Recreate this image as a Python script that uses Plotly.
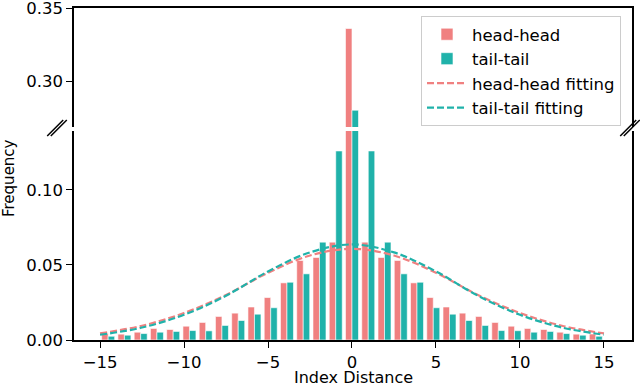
import numpy as np
import plotly.graph_objects as go

# histogram of index distances: 31 bins over [-15, 15]
bin_edges = np.linspace(-15, 15, 32)
bin_centers = (bin_edges[:-1] + bin_edges[1:]) / 2

head_head = [0.0042, 0.0039, 0.0052, 0.0077, 0.0070, 0.0092, 0.0117, 0.0157,
             0.0179, 0.0220, 0.0283, 0.0381, 0.0530, 0.0550, 0.0652,
             0.3360,
             0.0652, 0.0550, 0.0530, 0.0381, 0.0283, 0.0220, 0.0179, 0.0157,
             0.0117, 0.0092, 0.0077, 0.0070, 0.0052, 0.0039, 0.0040]
tail_tail = [0.0025, 0.0032, 0.0043, 0.0052, 0.0057, 0.0063, 0.0061, 0.0097,
             0.0130, 0.0172, 0.0215, 0.0385, 0.0441, 0.0652, 0.1260,
             0.2800,
             0.1260, 0.0652, 0.0441, 0.0385, 0.0215, 0.0172, 0.0130, 0.0097,
             0.0063, 0.0062, 0.0052, 0.0057, 0.0043, 0.0032, 0.0025]

# gaussian fitting curves
fit_x = [-15, -12.5, -10, -7.5, -5, -2.5, 0, 2.5, 5, 7.5, 10, 12.5, 15]
head_fit = [0.0044, 0.0095, 0.0180, 0.0300, 0.0448, 0.0563, 0.0608,
            0.0563, 0.0448, 0.0300, 0.0180, 0.0095, 0.0044]
tail_fit = [0.0035, 0.0083, 0.0168, 0.0295, 0.0457, 0.0584, 0.0637,
            0.0584, 0.0457, 0.0295, 0.0168, 0.0083, 0.0035]

PINK = '#F08080'
TEAL = '#20B2AA'
FONT = 'DejaVu Sans'
W, H = 640, 386
ML, MR, MT, MB = 74, 8, 8, 46
bw = 0.4 * (bin_edges[1] - bin_edges[0])


def px(x, y):
    # pixel -> paper coords
    return (x - ML) / (W - ML - MR), (H - MB - y) / (H - MT - MB)


fig = go.Figure()
for ax, ay, show in [('x', 'y', True), ('x2', 'y2', False)]:
    fig.add_trace(go.Bar(x=bin_centers, y=head_head, name='head-head', width=bw, offset=-bw,
                         marker=dict(color=PINK, line=dict(color='white', width=0.6)),
                         xaxis=ax, yaxis=ay, showlegend=show))
    fig.add_trace(go.Bar(x=bin_centers, y=tail_tail, name='tail-tail', width=bw, offset=0,
                         marker=dict(color=TEAL, line=dict(color='white', width=0.6)),
                         xaxis=ax, yaxis=ay, showlegend=show))
    if show:
        fig.add_trace(go.Scatter(x=fit_x, y=head_fit, name='head-head fitting', mode='lines',
                                 line=dict(color=PINK, width=2.2, dash='7px,3px', shape='spline')))
        fig.add_trace(go.Scatter(x=fit_x, y=tail_fit, name='tail-tail fitting', mode='lines',
                                 line=dict(color=TEAL, width=2.2, dash='7px,3px', shape='spline')))

axis_common = dict(showline=True, linecolor='black', linewidth=1.5, showgrid=False,
                   zeroline=False, ticks='outside', ticklen=6, tickwidth=1.3, tickcolor='black',
                   tickfont=dict(family=FONT, size=16.5, color='black'),
                   ticklabeloverflow='allow', automargin=False)

bot_top = px(0, 131)[1]
top_bot = px(0, 127)[1]

fig.update_layout(
    width=W, height=H, margin=dict(l=ML, r=MR, t=MT, b=MB, autoexpand=False),
    plot_bgcolor='white', paper_bgcolor='white', barmode='overlay',
    font=dict(family=FONT, size=16.5, color='black'),
    xaxis=dict(axis_common, domain=[0, 1], anchor='y', range=[-16.55, 16.67],
               tickvals=[-15, -10, -5, 0, 5, 10, 15]),
    xaxis2=dict(showline=True, linecolor='black', linewidth=1.5, showgrid=False, zeroline=False,
                matches='x', anchor='y2', side='top', showticklabels=False, ticks='',
                automargin=False),
    yaxis=dict(axis_common, domain=[0, bot_top], anchor='x', range=[0, 0.1393], mirror=True,
               tickvals=[0, 0.05, 0.10], tickformat='.2f'),
    yaxis2=dict(axis_common, domain=[top_bot, 1], anchor='x2', range=[0.2685, 0.35005], mirror=True,
                tickvals=[0.30, 0.35], tickformat='.2f'),
    legend=dict(x=px(621, 0)[0], y=px(0, 16)[1], xanchor='right', yanchor='top',
                bgcolor='rgba(255,255,255,0.8)', bordercolor='#cccccc', borderwidth=1,
                font=dict(family=FONT, size=16.5), tracegroupgap=0, itemwidth=40),
    showlegend=True,
)

# axis titles
fig.add_annotation(text='Index Distance', xref='paper', yref='paper',
                   x=px(353, 0)[0], y=px(0, 377)[1], showarrow=False,
                   xanchor='center', yanchor='middle', font=dict(family=FONT, size=16))
fig.add_annotation(text='Frequency', xref='paper', yref='paper', textangle=-90,
                   x=px(9, 0)[0], y=px(0, 178)[1], showarrow=False,
                   xanchor='center', yanchor='middle', font=dict(family=FONT, size=15))

# break marks
for cx, cy in [(57, 128), (630, 128)]:
    for dx in (-1.8, 1.8):
        x0, y0 = px(cx + dx - 8, cy + 8)
        x1, y1 = px(cx + dx + 8, cy - 8)
        fig.add_shape(type='line', xref='paper', yref='paper', x0=x0, y0=y0, x1=x1, y1=y1,
                      line=dict(color='black', width=1.5))

fig.write_html('out.html', config={'displayModeBar': False},
               post_script="document.body.style.margin='0';")
